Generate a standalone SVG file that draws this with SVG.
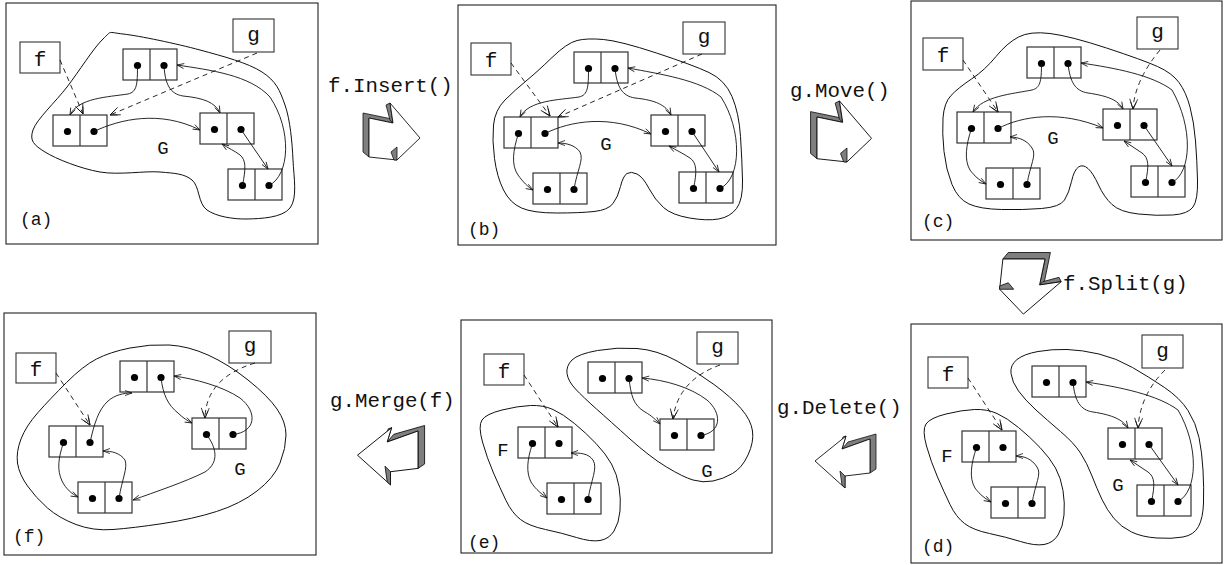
<svg xmlns="http://www.w3.org/2000/svg" width="1225" height="565" viewBox="0 0 1225 565">
<style>
.frame{fill:#fff;stroke:#222;stroke-width:1.1}
.blob{fill:none;stroke:#111;stroke-width:1}
.nd rect{fill:none;stroke:#333;stroke-width:1.2}
.nd line{stroke:#333;stroke-width:1.2}
.nd circle{fill:#000}
.lbl{fill:none;stroke:#333;stroke-width:1.1}
.t20{font-family:"Liberation Mono","DejaVu Sans Mono",monospace;font-size:21px;fill:#111;text-anchor:middle}
.t18{font-family:"Liberation Mono","DejaVu Sans Mono",monospace;font-size:18px;fill:#111}
.tG{font-family:"Liberation Mono","DejaVu Sans Mono",monospace;font-size:19px;fill:#111;text-anchor:middle}
.op{font-family:"Liberation Mono","DejaVu Sans Mono",monospace;font-size:20.8px;fill:#111}
.c{fill:none;stroke:#111;stroke-width:0.9;marker-end:url(#ah)}
.d{fill:none;stroke:#111;stroke-width:0.9;stroke-dasharray:5,4;marker-end:url(#dh)}
.sh{fill:#7f7f7f;stroke:#111;stroke-width:0.8;stroke-linejoin:miter}
.fr{fill:#fff;stroke:#111;stroke-width:0.9;stroke-linejoin:miter}
</style>
<defs>
<marker id="ah" markerUnits="userSpaceOnUse" markerWidth="10" markerHeight="8" refX="7" refY="2.5" orient="auto" overflow="visible">
<path d="M0,0 L7,2.5 L0,5" fill="none" stroke="#111" stroke-width="0.8"/>
</marker>
<marker id="dh" markerUnits="userSpaceOnUse" markerWidth="12" markerHeight="10" refX="10" refY="4" orient="auto" overflow="visible">
<path d="M0,0 L10,4 L0,8 M3,1.2 L10,4 L3,6.8" fill="none" stroke="#111" stroke-width="0.8"/>
</marker>
<g id="node" class="nd">
<rect x="0" y="0" width="54" height="31"/>
<line x1="27" y1="0" x2="27" y2="31"/>
<circle cx="14.5" cy="16.5" r="3.6"/>
<circle cx="41" cy="16.5" r="3.6"/>
</g>
<g id="boltR">
<polygon class="sh" points="-6,-5 23,1 24,5 0,0 0,39 -6,34"/>
<polygon class="sh" points="17,-13 21,-15 24,5 21,2"/>
<polygon class="fr" points="0,0 24,5 21,-15 51,20 28,42 0,39"/>
<polygon class="sh" points="28,29 22,34 25,42 28,42"/>
</g>
<g id="boltL">
<polygon class="sh" points="-28,10 -22,3 6,-5 6,30 0,34 0,0"/>
<polygon class="sh" points="-24,-3 -28,10 -32,11 -27,-2"/>
<polygon class="fr" points="0,0 0,34 -25,37 -25,49 -55,22 -24,-3 -28,10"/>
<polygon class="sh" points="-25,37 -30,32 -28,46 -25,49"/>
</g>
</defs>

<!-- frames -->
<g id="frames">
<rect id="frame-a" class="frame" x="6" y="3" width="312" height="241"/>
<rect id="frame-b" class="frame" x="458" y="5" width="318" height="240"/>
<rect id="frame-c" class="frame" x="911" y="1" width="311" height="239"/>
<rect id="frame-d" class="frame" x="911" y="324" width="311" height="239"/>
<rect id="frame-e" class="frame" x="461" y="320" width="311" height="233"/>
<rect id="frame-f" class="frame" x="4" y="313" width="312" height="242"/>
</g>

<!-- regions -->
<g id="regions">
<path id="blob-a-G" class="blob" d="M123,34 C139.2,35.8 176.8,43.7 200,50 C223.2,56.3 247.8,62.8 262,72 C276.2,81.2 279.8,90.3 285,105 C290.2,119.7 292.2,142.8 293,160 C293.8,177.2 297.7,198.2 290,208 C282.3,217.8 260.8,218.7 247,219 C233.2,219.3 216.2,216.5 207,210 C197.8,203.5 199.8,186.3 192,180 C184.2,173.7 175.3,173.3 160,172 C144.7,170.7 119.2,175.3 100,172 C80.8,168.7 56.2,159 45,152 C33.8,145 29.3,140.8 33,130 C36.7,119.2 55.3,102.2 67,87 C78.7,71.8 93.7,47.8 103,39 C112.3,30.2 106.8,32.2 123,34 Z"/>
<path id="blob-b-G" class="blob" d="M552,57.5 Q567,43 577,40.5 Q587,38 603.5,39.5 Q620,41 656.5,53 Q693,65 709,72.5 Q725,80 732,96.5 Q739,113 740.5,136.5 Q742,160 742.5,180 Q743,200 736.5,208.5 Q730,217 718.5,219 Q707,221 689.5,218 Q672,215 663.5,207.5 Q655,200 649,188.5 Q643,177 637,174 Q631,171 627,173.5 Q623,176 620.5,186.5 Q618,197 613,203.5 Q608,210 594,211.5 Q580,213 556.5,213 Q533,213 521.5,208 Q510,203 503.5,190 Q497,177 494.5,158.5 Q492,140 493.5,125 Q495,110 505,100 Q515,90 526,81 Q537,72 552,57.5 Z"/>
<path id="blob-c-G" class="blob" d="M996,56.5 Q1007,43 1018.5,37 Q1030,31 1050,33.5 Q1070,36 1106.5,48 Q1143,60 1157.5,66.5 Q1172,73 1179,82.5 Q1186,92 1190,107 Q1194,122 1195.5,141 Q1197,160 1197.5,180 Q1198,200 1193,207 Q1188,214 1172.5,215 Q1157,216 1138.5,214 Q1120,212 1112,204.5 Q1104,197 1098.5,185 Q1093,173 1088,168.5 Q1083,164 1078.5,167 Q1074,170 1071.5,181.5 Q1069,193 1064.5,200 Q1060,207 1041.5,208.5 Q1023,210 1001.5,209.5 Q980,209 969,204 Q958,199 952,184.5 Q946,170 944,151.5 Q942,133 943,118 Q944,103 951,95.5 Q958,88 971.5,79 Q985,70 996,56.5 Z"/>
<path id="blob-d-F" class="blob" d="M926.5,446 Q922,430 926,424 Q930,418 946,414 Q962,410 974.5,409.5 Q987,409 997,413.5 Q1007,418 1018.5,427.5 Q1030,437 1040,447.5 Q1050,458 1055.5,468 Q1061,478 1063,490.5 Q1065,503 1064,515 Q1063,527 1058,535 Q1053,543 1044,544.5 Q1035,546 1020.5,541.5 Q1006,537 989.5,533.5 Q973,530 964.5,523.5 Q956,517 950,504.5 Q944,492 937.5,477 Q931,462 926.5,446 Z"/>
<path id="blob-d-G" class="blob" d="M1011,373.5 Q1010,365 1017,359.5 Q1024,354 1038,351.5 Q1052,349 1067,349.5 Q1082,350 1099,354 Q1116,358 1132.5,367.5 Q1149,377 1164.5,387.5 Q1180,398 1188,410.5 Q1196,423 1199,437.5 Q1202,452 1203,470 Q1204,488 1203.5,503 Q1203,518 1198.5,526.5 Q1194,535 1183,537 Q1172,539 1157,538 Q1142,537 1131.5,532 Q1121,527 1114,518.5 Q1107,510 1102,499.5 Q1097,489 1092,476 Q1087,463 1080.5,453 Q1074,443 1060.5,431.5 Q1047,420 1036,410 Q1025,400 1018.5,391 Q1012,382 1011,373.5 Z"/>
<path id="blob-e-F" class="blob" transform="translate(-444,-4)" d="M926.5,446 Q922,430 926,424 Q930,418 946,414 Q962,410 974.5,409.5 Q987,409 997,413.5 Q1007,418 1018.5,427.5 Q1030,437 1040,447.5 Q1050,458 1055.5,468 Q1061,478 1063,490.5 Q1065,503 1064,515 Q1063,527 1058,535 Q1053,543 1044,544.5 Q1035,546 1020.5,541.5 Q1006,537 989.5,533.5 Q973,530 964.5,523.5 Q956,517 950,504.5 Q944,492 937.5,477 Q931,462 926.5,446 Z"/>
<path id="blob-e-G" class="blob" d="M567,373.5 Q566,366 572,360 Q578,354 597.5,350.5 Q617,347 637,348.5 Q657,350 677,361 Q697,372 714,384.5 Q731,397 741,408.5 Q751,420 752.5,431 Q754,442 748,455 Q742,468 732.5,473.5 Q723,479 713,481 Q703,483 693,480 Q683,477 666.5,467 Q650,457 630,439 Q610,421 596.5,409 Q583,397 575.5,389 Q568,381 567,373.5 Z"/>
<path id="blob-f-G" class="blob" d="M17.5,463 Q16,452 21,439 Q26,426 38,412.5 Q50,399 66.5,382.5 Q83,366 96.5,359 Q110,352 130,348 Q150,344 169,345 Q188,346 208,355 Q228,364 248,380 Q268,396 277,409 Q286,422 286,435 Q286,448 280,463 Q274,478 257,491 Q240,504 216.5,511.5 Q193,519 163,523.5 Q133,528 113,529.5 Q93,531 76,524.5 Q59,518 47.5,508 Q36,498 27.5,486 Q19,474 17.5,463 Z"/>
</g>

<!-- texts in panels -->
<g id="panel-labels">
<text class="t18" x="20" y="225">(a)</text>
<text class="t18" x="468" y="235">(b)</text>
<text class="t18" x="922" y="227">(c)</text>
<text class="t18" x="922" y="552">(d)</text>
<text class="t18" x="468" y="548">(e)</text>
<text class="t18" x="13" y="542">(f)</text>
<text class="tG" x="163" y="154">G</text>
<text class="tG" x="606" y="150">G</text>
<text class="tG" x="1053" y="144">G</text>
<text class="tG" x="947" y="462">F</text>
<text class="tG" x="1118" y="491">G</text>
<text class="tG" x="503" y="456">F</text>
<text class="tG" x="707" y="477">G</text>
<text class="tG" x="240" y="475">G</text>
</g>

<!-- pointer nodes -->
<g id="a-f"><rect class="lbl" x="20" y="42" width="40" height="31"/><text class="t20" x="40" y="65.5">f</text></g>
<g id="a-g"><rect class="lbl" x="233" y="19" width="41" height="33"/><text class="t20" x="253.5" y="40.5">g</text></g>
<g id="b-f"><rect class="lbl" x="471" y="43" width="40" height="32"/><text class="t20" x="491" y="67">f</text></g>
<g id="b-g"><rect class="lbl" x="683" y="22" width="42" height="32"/><text class="t20" x="704" y="43">g</text></g>
<g id="c-f"><rect class="lbl" x="923" y="38" width="40" height="32"/><text class="t20" x="943" y="62">f</text></g>
<g id="c-g"><rect class="lbl" x="1137" y="17" width="41" height="32"/><text class="t20" x="1157.5" y="38">g</text></g>
<g id="d-f"><rect class="lbl" x="928" y="357" width="40" height="31"/><text class="t20" x="948" y="380.5">f</text></g>
<g id="d-g"><rect class="lbl" x="1142" y="335" width="41" height="33"/><text class="t20" x="1162.5" y="356.5">g</text></g>
<g id="e-f"><rect class="lbl" x="484" y="354" width="40" height="31"/><text class="t20" x="504" y="377.5">f</text></g>
<g id="e-g"><rect class="lbl" x="697" y="332" width="41" height="32"/><text class="t20" x="717.5" y="353">g</text></g>
<g id="f-f"><rect class="lbl" x="16" y="353" width="40" height="30"/><text class="t20" x="36" y="376">f</text></g>
<g id="f-g"><rect class="lbl" x="229" y="331" width="42" height="32"/><text class="t20" x="250" y="352">g</text></g>

<!-- list nodes -->
<g id="a-n1"><use href="#node" x="123" y="49"/></g>
<g id="a-n2"><use href="#node" x="53" y="115"/></g>
<g id="a-n3"><use href="#node" x="200" y="113"/></g>
<g id="a-n4"><use href="#node" x="228" y="169"/></g>

<g id="b-n1"><use href="#node" x="574" y="52"/></g>
<g id="b-n2"><use href="#node" x="504" y="117"/></g>
<g id="b-n3"><use href="#node" x="651" y="115"/></g>
<g id="b-n4"><use href="#node" x="533" y="173"/></g>
<g id="b-n5"><use href="#node" x="679" y="172"/></g>

<g id="c-n1"><use href="#node" x="1027" y="47"/></g>
<g id="c-n2"><use href="#node" x="957" y="112"/></g>
<g id="c-n3"><use href="#node" x="1103" y="109"/></g>
<g id="c-n4"><use href="#node" x="986" y="168"/></g>
<g id="c-n5"><use href="#node" x="1131" y="166"/></g>

<g id="d-n1"><use href="#node" x="1032" y="366"/></g>
<g id="d-n2"><use href="#node" x="962" y="431"/></g>
<g id="d-n3"><use href="#node" x="1108" y="428"/></g>
<g id="d-n4"><use href="#node" x="991" y="487"/></g>
<g id="d-n5"><use href="#node" x="1137" y="485"/></g>

<g id="e-n1"><use href="#node" x="588" y="362"/></g>
<g id="e-n2"><use href="#node" x="518" y="427"/></g>
<g id="e-n3"><use href="#node" x="660" y="419"/></g>
<g id="e-n4"><use href="#node" x="547" y="483"/></g>

<g id="f-n1"><use href="#node" x="120" y="361"/></g>
<g id="f-n2"><use href="#node" x="49" y="426"/></g>
<g id="f-n3"><use href="#node" x="192" y="418"/></g>
<g id="f-n4"><use href="#node" x="78" y="482"/></g>

<!-- connectors -->
<g id="connectors">
<g id="conn-a">
<path class="c" d="M137.5,65.5 C137.5,84 137,92 128,94 C108,97 78,98 70,115"/>
<path class="c" d="M164,65.5 C165,84 170,94 183,96 C203,98 215,102 220,113"/>
<path class="c" d="M94,131.5 C120,119 160,110 200,130"/>
<path class="c" d="M241,129.5 L268,169"/>
<path class="c" d="M242.5,185.5 C246,168 246,160 240,155 C235,151 228,148 222,144"/>
<path class="c" d="M269,185.5 C290,175 292,130 270,97 C250,75 210,70 177,65"/>
<path class="d" d="M60,60 L83,114"/>
<path class="d" d="M257,53 L110,115"/>
</g>
<g id="conn-b">
<path class="c" d="M588.5,68.5 C588.5,87 588,95 579,97 C559,100 529,100 520,117"/>
<path class="c" d="M615,68.5 C617,87 622,96 635,98 C655,100 666,105 671,115"/>
<path class="c" d="M545,133.5 C570,121 610,114 651,134"/>
<path class="c" d="M692,131.5 L719,172"/>
<path class="c" d="M693.5,188.5 C697,172 697,163 690,158 C684,154 676,150 669,146"/>
<path class="c" d="M720,188.5 C742,178 742,130 721,97 C700,80 660,74 628,68"/>
<path class="c" d="M518.5,133.5 C513,150 511,165 518,175 C523,182 528,187 533,190"/>
<path class="c" d="M574,189.5 C577,170 584,160 580,152 C575,145 566,143 558,143"/>
<path class="d" d="M511,63 L550,116"/>
<path class="d" d="M702,54 L558,117"/>
</g>
<g id="conn-c">
<path class="c" d="M1041.5,63.5 C1041.5,82 1040,88 1032,90 C1012,94 983,96 973,112"/>
<path class="c" d="M1068,63.5 C1070,82 1075,91 1088,93 C1108,96 1118,100 1123,109"/>
<path class="c" d="M998,128.5 C1022,116 1060,110 1103,128"/>
<path class="c" d="M1144,125.5 L1172,166"/>
<path class="c" d="M1145.5,182.5 C1149,166 1149,158 1142,153 C1136,149 1130,145 1124,141"/>
<path class="c" d="M1172,182.5 C1192,172 1193,127 1172,90 C1152,75 1115,68 1081,63"/>
<path class="c" d="M971.5,128.5 C966,145 964,160 970,170 C975,177 981,181 986,184"/>
<path class="c" d="M1027,184.5 C1030,165 1037,155 1032,148 C1027,140 1018,137 1010,137"/>
<path class="d" d="M963,60 L998,112"/>
<path class="d" d="M1160,50 Q1135,80 1133,109"/>
</g>
<g id="conn-d">
<path class="c" d="M1073,382.5 C1075,401 1080,410 1093,412 C1113,415 1123,420 1128,428"/>
<path class="c" d="M1149,444.5 L1178,485"/>
<path class="c" d="M1151.5,501.5 C1155,485 1155,477 1148,472 C1142,468 1136,464 1130,460"/>
<path class="c" d="M1178,501.5 C1198,491 1199,446 1178,410 C1158,395 1120,387 1086,382"/>
<path class="c" d="M976.5,447.5 C971,464 969,478 975,488 C980,495 986,499 991,502"/>
<path class="c" d="M1032,503.5 C1035,484 1042,474 1037,467 C1032,459 1024,456 1016,456"/>
<path class="d" d="M968,378 L1002,430"/>
<path class="d" d="M1165,370 Q1140,395 1138,428"/>
</g>
<g id="conn-e">
<path class="c" d="M629,378.5 C631,395 633,405 645,412 C652,416 656,420 660,424"/>
<path class="c" d="M701,435.5 C722,432 722,413 707,400 C690,387 665,380 642,378"/>
<path class="c" d="M532.5,443.5 C527,460 526,472 531,482 C536,490 542,494 547,498"/>
<path class="c" d="M588,499.5 C591,480 598,468 593,460 C588,453 580,453 571,453"/>
<path class="d" d="M524,375 L558,427"/>
<path class="d" d="M720,365 Q678,380 673,419"/>
</g>
<g id="conn-f">
<path class="c" d="M90,442.5 C94,425 98,410 108,401 C115,395 123,393 132,393"/>
<path class="c" d="M161,377.5 C163,395 168,405 178,413 C183,418 188,421 192,423"/>
<path class="c" d="M233,434.5 C256,432 258,412 240,398 C222,386 195,379 174,376"/>
<path class="c" d="M206.5,434.5 C216,447 220,462 205,472 C185,482 155,492 133,500"/>
<path class="c" d="M63.5,442.5 C58,459 57,470 62,481 C66,489 72,494 78,497"/>
<path class="c" d="M119,498.5 C122,479 128,468 125,460 C120,453 112,451 103,451"/>
<path class="d" d="M56,373 L90,425"/>
<path class="d" d="M255,363 Q206,378 205,418"/>
</g>
</g>

<!-- operation arrows -->
<g id="op-insert">
<use href="#boltR" transform="translate(369,118)"/>
<text class="op" x="328" y="92">f.Insert()</text>
</g>
<g id="op-move">
<use href="#boltR" transform="translate(817,117) scale(1.07)"/>
<text class="op" x="790" y="97">g.Move()</text>
</g>
<g id="op-split">
<use href="#boltR" transform="translate(1045,259) rotate(90) scale(1.08)"/>
<text class="op" x="1063" y="290">f.Split(g)</text>
</g>
<g id="op-delete">
<use href="#boltL" transform="translate(870,439)"/>
<text class="op" x="777" y="414">g.Delete()</text>
</g>
<g id="op-merge">
<use href="#boltL" transform="translate(418,431) scale(1.1)"/>
<text class="op" x="330" y="407">g.Merge(f)</text>
</g>
</svg>
